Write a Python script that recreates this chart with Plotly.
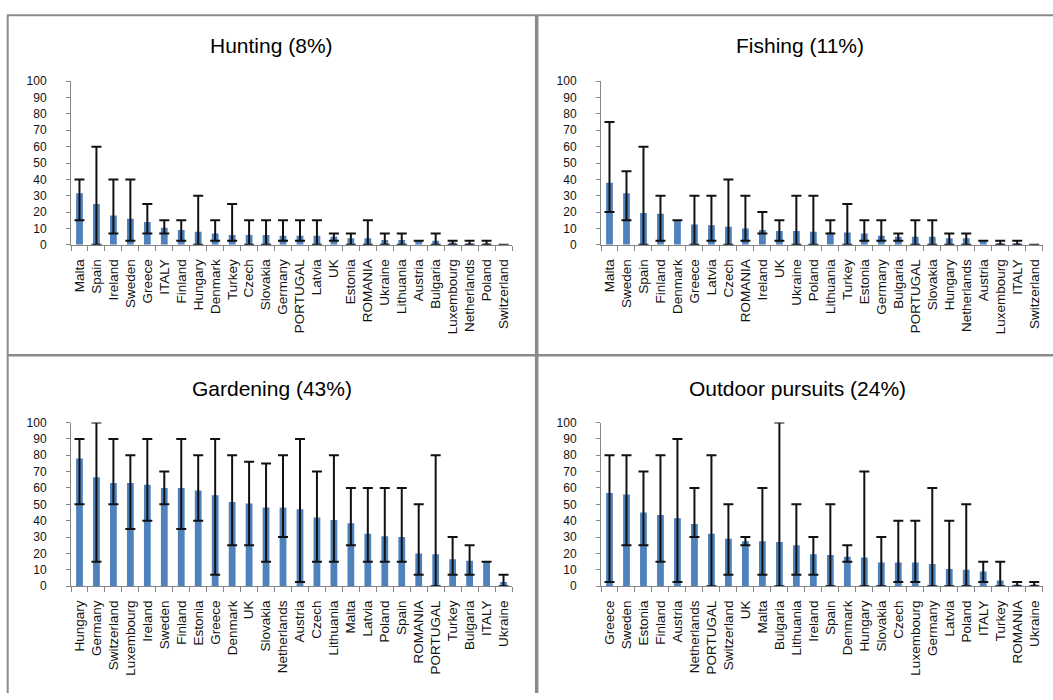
import plotly.graph_objects as go

# ---- data: share of respondents (%), with min / max range per country ----
hunting_countries = ["Malta", "Spain", "Ireland", "Sweden", "Greece", "ITALY", "Finland", "Hungary",
                     "Denmark", "Turkey", "Czech", "Slovakia", "Germany", "PORTUGAL", "Latvia", "UK",
                     "Estonia", "ROMANIA", "Ukraine", "Lithuania", "Austria", "Bulgaria", "Luxembourg",
                     "Netherlands", "Poland", "Switzerland"]
hunting_values = [31.5, 25, 18, 16, 14, 10.5, 9, 8, 7, 6, 6, 6, 5.5, 5.5, 5.5, 5, 4, 4, 3, 3,
                  2.5, 2.5, 1.5, 1, 0.5, 0]
hunting_low = [15, 0, 7, 2.5, 7, 7, 2.5, 0, 2.5, 2.5, 0, 0, 2.5, 2.5, 0, 2.5, 0, 0, 0, 0,
               None, 0, 0, 0, 0, None]
hunting_high = [40, 60, 40, 40, 25, 15, 15, 30, 15, 25, 15, 15, 15, 15, 15, 7, 7, 15, 7, 7,
                None, 7, 2.5, 2.5, 2.5, None]

fishing_countries = ["Malta", "Sweden", "Spain", "Finland", "Denmark", "Greece", "Latvia", "Czech",
                     "ROMANIA", "Ireland", "UK", "Ukraine", "Poland", "Lithuania", "Turkey", "Estonia",
                     "Germany", "Bulgaria", "PORTUGAL", "Slovakia", "Hungary", "Netherlands", "Austria",
                     "Luxembourg", "ITALY", "Switzerland"]
fishing_values = [38, 31.5, 19.5, 19, 15, 12.5, 12, 11, 10, 9, 8.5, 8.5, 8, 7.5, 7.5, 7, 5.5, 5,
                  5, 5, 4, 4, 2.5, 1, 1, 0]
fishing_low = [20, 15, 0, 2.5, None, 0, 2.5, 0, 2.5, 7, 2.5, 0, 0, 7, 0, 2.5, 2.5, 2.5, 0, 0,
               0, 0, None, 0, 0, None]
fishing_high = [75, 45, 60, 30, None, 30, 30, 40, 30, 20, 15, 30, 30, 15, 25, 15, 15, 7, 15, 15,
                7, 7, None, 2.5, 2.5, None]

gardening_countries = ["Hungary", "Germany", "Switzerland", "Luxembourg", "Ireland", "Sweden", "Finland",
                       "Estonia", "Greece", "Denmark", "UK", "Slovakia", "Netherlands", "Austria", "Czech",
                       "Lithuania", "Malta", "Latvia", "Poland", "Spain", "ROMANIA", "PORTUGAL", "Turkey",
                       "Bulgaria", "ITALY", "Ukraine"]
gardening_values = [78, 66.5, 63, 63, 62, 60, 60, 58.5, 55.5, 51.5, 50.5, 48, 48, 47, 42, 40.5,
                    38.5, 32, 30.5, 30, 20, 19.5, 16.5, 15.5, 15, 2.5]
gardening_low = [50, 15, 50, 35, 40, 50, 35, 40, 7, 25, 25, 15, 30, 2.5, 15, 15, 25, 15, 15, 15,
                 7, 0, 7, 7, None, 0]
gardening_high = [90, 100, 90, 80, 90, 70, 90, 80, 90, 80, 76, 75, 80, 90, 70, 80, 60, 60, 60, 60,
                  50, 80, 30, 25, None, 7]

outdoor_countries = ["Greece", "Sweden", "Estonia", "Finland", "Austria", "Netherlands", "PORTUGAL",
                     "Switzerland", "UK", "Malta", "Bulgaria", "Lithuania", "Ireland", "Spain", "Denmark",
                     "Hungary", "Slovakia", "Czech", "Luxembourg", "Germany", "Latvia", "Poland", "ITALY",
                     "Turkey", "ROMANIA", "Ukraine"]
outdoor_values = [57, 56, 45, 43.5, 41.5, 38, 32, 29, 27.5, 27.5, 27, 25, 19.5, 19, 18, 17.5,
                  14.5, 14.5, 14.5, 13.5, 10.5, 10, 9, 3.5, 1, 1]
outdoor_low = [2.5, 25, 25, 15, 2.5, 30, 0, 7, 25, 7, 0, 7, 7, 0, 15, 0, 0, 2.5, 2.5, 0,
               0, 0, 2.5, 0, 0, 0]
outdoor_high = [80, 80, 70, 80, 90, 60, 80, 50, 30, 60, 100, 50, 30, 50, 25, 70, 30, 40, 40, 60,
                40, 50, 15, 15, 2.5, 2.5]

panel_titles = ["Hunting (8%)", "Fishing (11%)", "Gardening (43%)", "Outdoor pursuits (24%)"]
y_ticks = list(range(0, 101, 10))

panels = [
    (hunting_countries, hunting_values, hunting_low, hunting_high),
    (fishing_countries, fishing_values, fishing_low, fishing_high),
    (gardening_countries, gardening_values, gardening_low, gardening_high),
    (outdoor_countries, outdoor_values, outdoor_low, outdoor_high),
]

W, H = 1053, 700
FONT = "Arial, Liberation Sans, sans-serif"
BAR = "#4F81BD"
AXIS = "#868686"
FRAME = "#8a8a8a"

# plot-area boxes in pixels: (left, right, top(=100), bottom(=0))
boxes = [
    (71, 512, 75.7, 242.7),
    (601, 1042.7, 75.7, 242.7),
    (71, 512, 424, 591),
    (601, 1042.7, 424, 591),
]
title_pos = [(271, 39), (800, 39), (272, 389), (797, 389)]

fig = go.Figure()


def err_arrays(vals, lo, hi):
    plus, minus = [], []
    for v, l, h in zip(vals, lo, hi):
        if l is None or h is None:
            plus.append(None)
            minus.append(None)
        else:
            plus.append(h - v)
            minus.append(v - l)
    return plus, minus


for i, (cats, vals, lo, hi) in enumerate(panels):
    n = "" if i == 0 else str(i + 1)
    plus, minus = err_arrays(vals, lo, hi)
    fig.add_trace(go.Bar(
        x=cats, y=vals, xaxis="x" + n, yaxis="y" + n,
        marker=dict(color=BAR, line=dict(width=0)),
        error_y=dict(type="data", array=plus, arrayminus=minus, symmetric=False,
                     color="#111111", thickness=2, width=5),
        showlegend=False, hoverinfo="x+y",
    ))
    l, r, t, b = boxes[i]
    fig.layout["xaxis" + n] = dict(
        domain=[l / W, r / W], anchor="y" + n, type="category",
        showline=True, linecolor=AXIS, linewidth=1,
        ticks="outside", tickson="boundaries", ticklen=5, tickcolor=AXIS,
        tickangle=-90, tickfont=dict(family=FONT, size=13.5, color="#111111"),
        ticklabelstandoff=8, showgrid=False, zeroline=False, fixedrange=True,
    )
    fig.layout["yaxis" + n] = dict(
        domain=[1 - b / H, 1 - t / H], anchor="x" + n, range=[0, 100],
        tickvals=y_ticks, showline=True, linecolor=AXIS, linewidth=1,
        ticks="outside", ticklen=4, tickcolor=AXIS,
        tickfont=dict(family=FONT, size=12, color="#111111"),
        ticklabelstandoff=17, showgrid=False, zeroline=False, fixedrange=True,
    )
    tx, ty = title_pos[i]
    fig.add_annotation(x=tx / W, y=1 - ty / H, xref="paper", yref="paper",
                       text=panel_titles[i], showarrow=False,
                       xanchor="center", yanchor="middle",
                       font=dict(family=FONT, size=21, color="#000000"))

# frame lines separating the four panels
frame = [
    (7.7, 8.3, 7.7, H, 2),      # left edge
    (7, 8.3, W, 8.3, 2),        # top edge
    (536.7, 8, 536.7, H, 3.5),  # middle vertical divider
    (7, 355.3, W, 355.3, 2.5),  # middle horizontal divider
]
for x0, y0, x1, y1, w in frame:
    fig.add_shape(type="line", xref="paper", yref="paper",
                  x0=x0 / W, y0=1 - y0 / H, x1=x1 / W, y1=1 - y1 / H,
                  line=dict(color=FRAME, width=w))

fig.update_layout(
    width=W, height=H, margin=dict(l=0, r=0, t=0, b=0),
    paper_bgcolor="white", plot_bgcolor="white",
    bargap=0.6, font=dict(family=FONT),
)

# page body without default margin so the figure fills the window exactly
fig.write_html("out.html",
               post_script="document.body.style.margin='0';document.body.style.overflow='hidden';")
